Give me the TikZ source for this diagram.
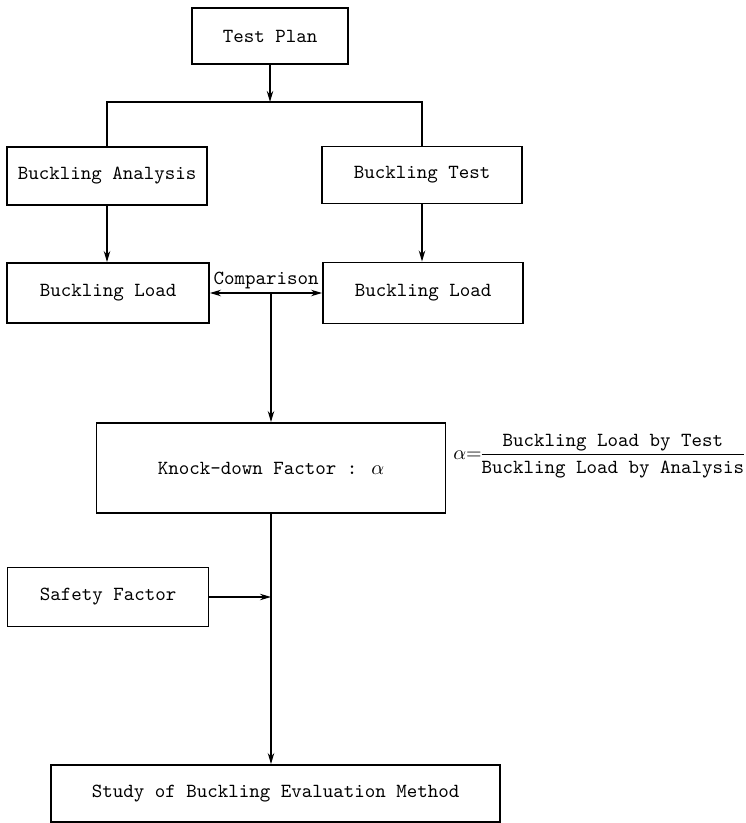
\documentclass[tikz,border=0pt]{standalone}
\usepackage{amsmath}
\usetikzlibrary{arrows.meta}

\begin{document}
\begin{tikzpicture}[x=0.5pt,y=-0.5pt, line width=0.8pt,
    every node/.style={font=\ttfamily},
    box/.style={draw,line width=0.9pt,inner sep=0pt},
    >={Stealth[length=5.5pt,width=3.2pt]}]
  \useasboundingbox (0,0) rectangle (745,823);

  \node[box,minimum width=78pt,minimum height=28pt] (plan) at (270,36) {Test Plan};

  \node[box,minimum width=100pt,minimum height=29pt] (analysis) at (107,176) {Buckling Analysis};
  \node[box,minimum width=100pt,minimum height=28.5pt] (test) at (422,175) {Buckling Test};
  \coordinate (bus) at (270,102);
  \draw (analysis.north) |- (bus) -| (test.north);
  \draw[->] (plan) -- (bus);

  \node[box,minimum width=101pt,minimum height=30pt] (loadA) at (108,293) {Buckling Load};
  \node[box,minimum width=100pt,minimum height=30.5pt] (loadT) at (423,293) {Buckling Load};
  \draw[->] (analysis) -- (analysis |- loadA.north);
  \draw[->] (test) -- (test |- loadT.north);
  \draw[<->] (loadA) -- (loadT) node[midway,above=0.5pt,inner sep=1pt] {Comparison};

  \node[box,minimum width=174.5pt,minimum height=45pt] (knock) at (271,468) {Knock-down Factor : $\alpha$};
  \coordinate (cmp) at (271,293);
  \draw[->] (cmp) -- (knock.north);
  \node[anchor=east,inner sep=0pt] (alpha) at (745,456)
    {\nulldelimiterspace=0pt$\alpha{=}\dfrac{\text{Buckling Load by Test}}{\text{Buckling Load by Analysis}}$};

  \node[box,minimum width=100.5pt,minimum height=29.5pt] (safety) at (108,597) {Safety Factor};
  \node[box,minimum width=224.5pt,minimum height=28.5pt] (study) at (275.5,793.5) {Study of Buckling Evaluation Method};
  \draw[->] (knock.south) -- (knock.south |- study.north);
  \draw[->] (safety) -- (knock.south |- safety.east);
\end{tikzpicture}
\end{document}
